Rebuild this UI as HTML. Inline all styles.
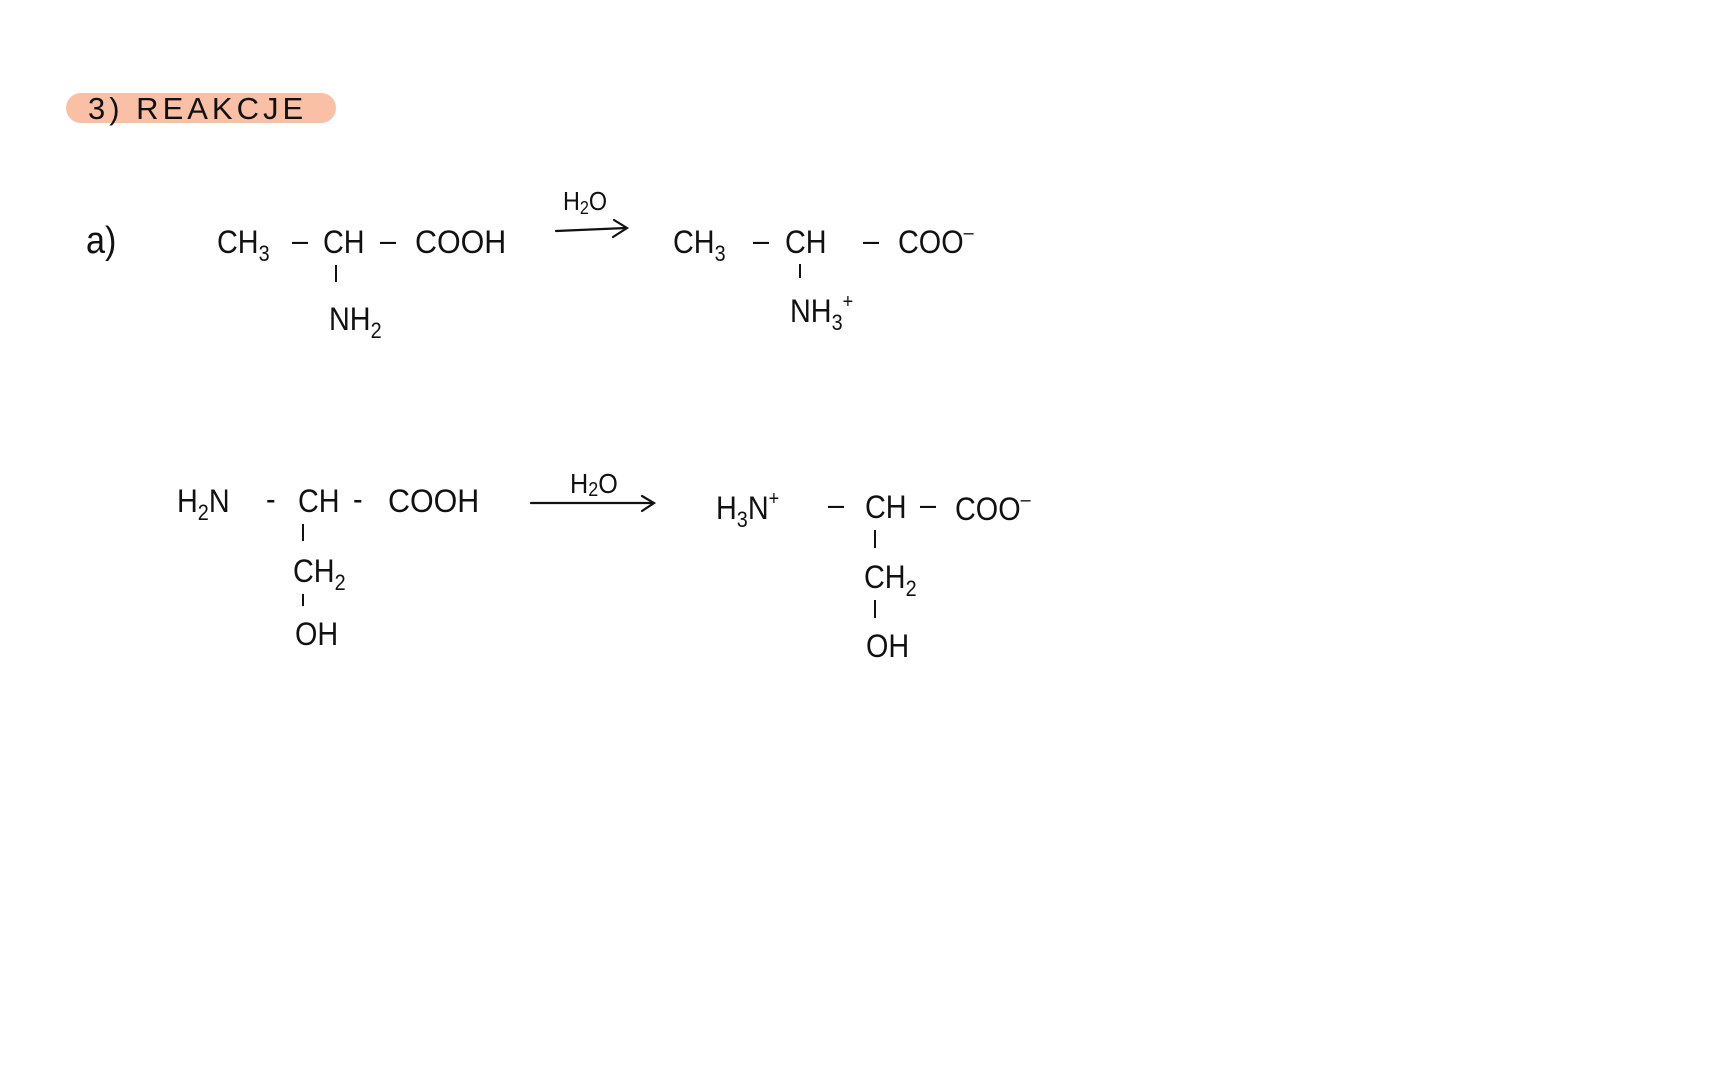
<!DOCTYPE html>
<html><head><meta charset="utf-8"><style>
html,body{margin:0;padding:0;background:#fff;}
body{width:1728px;height:1080px;position:relative;overflow:hidden;font-family:"Liberation Sans",sans-serif;color:#111;}
.t{position:absolute;font-size:32px;line-height:1;white-space:pre;transform:scaleX(0.9);transform-origin:left bottom;}
.t sub{font-size:22px;vertical-align:-8px;}
.t sup{font-size:20px;vertical-align:14px;line-height:0;}
.b{position:absolute;width:2px;background:#111;}
svg{position:absolute;left:0;top:0;}
</style></head><body>
<div style="position:absolute;left:66px;top:93px;width:270px;height:30px;border-radius:15px;background:#f9c0a6;"></div>
<div class="t" style="left:88px;top:93px;font-size:31px;transform:none;letter-spacing:4px;">3) REAKCJE</div>

<div class="t" style="left:86px;top:222px;font-size:38px;">a)</div>

<!-- row 1 -->
<div class="t" style="left:217px;top:226px;">CH<sub>3</sub></div>
<div class="t" style="left:292px;top:224px;">–</div>
<div class="t" style="left:323px;top:226px;">CH</div>
<div class="t" style="left:380px;top:224px;">–</div>
<div class="t" style="left:415px;top:226px;transform:scaleX(0.95);">COOH</div>
<div class="b" style="left:335px;top:265px;height:17px;"></div>
<div class="t" style="left:329px;top:303px;">NH<sub>2</sub></div>

<div class="t" style="left:563px;top:188px;font-size:26px;">H<sub style="font-size:18px;vertical-align:-4px">2</sub>O</div>

<div class="t" style="left:673px;top:226px;">CH<sub>3</sub></div>
<div class="t" style="left:753px;top:224px;">–</div>
<div class="t" style="left:785px;top:226px;">CH</div>
<div class="t" style="left:863px;top:224px;">–</div>
<div class="t" style="left:898px;top:226px;">COO<sup>–</sup></div>
<div class="b" style="left:799px;top:264px;height:14px;"></div>
<div class="t" style="left:790px;top:295px;">NH<sub>3</sub><sup>+</sup></div>

<!-- row 2 -->
<div class="t" style="left:177px;top:485px;">H<sub>2</sub>N</div>
<div class="t" style="left:266px;top:483px;">-</div>
<div class="t" style="left:298px;top:485px;">CH</div>
<div class="t" style="left:353px;top:483px;">-</div>
<div class="t" style="left:388px;top:485px;transform:scaleX(0.95);">COOH</div>
<div class="b" style="left:302px;top:524px;height:17px;"></div>
<div class="t" style="left:293px;top:555px;">CH<sub>2</sub></div>
<div class="b" style="left:302px;top:594px;height:12px;"></div>
<div class="t" style="left:295px;top:618px;">OH</div>

<div class="t" style="left:570px;top:470px;font-size:28px;">H<sub style="font-size:20px;vertical-align:-3px">2</sub>O</div>

<div class="t" style="left:716px;top:492px;">H<sub>3</sub>N<sup>+</sup></div>
<div class="t" style="left:828px;top:488px;">–</div>
<div class="t" style="left:865px;top:491px;">CH</div>
<div class="t" style="left:920px;top:488px;">–</div>
<div class="t" style="left:955px;top:493px;">COO<sup>–</sup></div>
<div class="b" style="left:874px;top:530px;height:18px;"></div>
<div class="t" style="left:864px;top:561px;">CH<sub>2</sub></div>
<div class="b" style="left:874px;top:600px;height:18px;"></div>
<div class="t" style="left:866px;top:630px;">OH</div>

<svg width="1728" height="1080">
<g stroke="#111" stroke-width="2.2" fill="none" stroke-linecap="round">
<path d="M556 231 L626 228"/><path d="M614 220 L627 228 L613 237"/>
<path d="M531 503 L652 503"/><path d="M642 496 L654 503 L642 511"/>
</g>
</svg>
</body></html>
